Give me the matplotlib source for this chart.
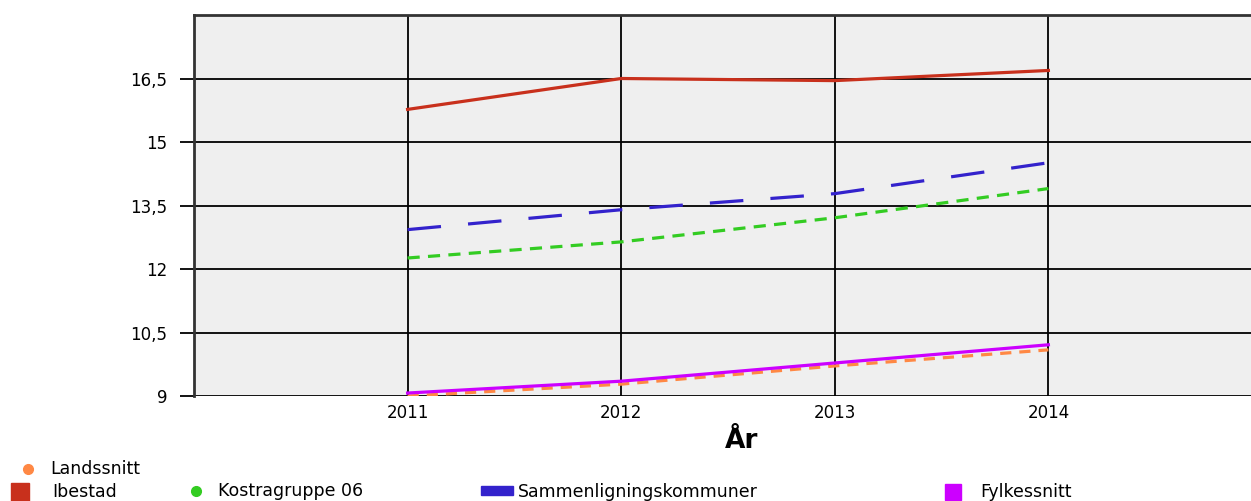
import matplotlib
matplotlib.use("Agg")
import matplotlib.pyplot as plt
from matplotlib.lines import Line2D

# data
years = [2011, 2012, 2013, 2014]
ibestad = [15.77, 16.50, 16.45, 16.69]
kostragruppe = [12.26, 12.64, 13.21, 13.90]
sammenligning = [12.93, 13.40, 13.78, 14.51]
fylkessnitt = [9.07, 9.35, 9.78, 10.21]
landssnitt = [9.00, 9.28, 9.71, 10.09]
yticks = [9, 10.5, 12, 13.5, 15, 16.5]
ytick_labels = ["9", "10,5", "12", "13,5", "15", "16,5"]

c_ibestad = "#c8301c"
c_kostra = "#33cc22"
c_samm = "#3322cc"
c_fylke = "#cc00ff"
c_lands = "#ff8844"

fig = plt.figure(figsize=(12.51, 5.01), dpi=100)
ax = fig.add_axes([194/1251, 1-396/501, (1262-194)/1251, (396-15)/501])
ax.set_facecolor("#efefef")

lw = 2.3
ax.plot(years, landssnitt, color=c_lands, lw=lw, dashes=(3.5, 2.5), zorder=3)
ax.plot(years, fylkessnitt, color=c_fylke, lw=lw, zorder=4)
ax.plot(years, kostragruppe, color=c_kostra, lw=lw, dashes=(3.8, 2.6), zorder=3)
ax.plot(years, sammenligning, color=c_samm, lw=lw, dashes=(10.5, 8.5), zorder=3)
ax.plot(years, ibestad, color=c_ibestad, lw=lw, zorder=3)

ax.set_xlim(2010, 2015)
ax.set_ylim(9, 18)
ax.set_xticks(years)
ax.set_xticklabels([str(y) for y in years])
ax.set_yticks(yticks)
ax.set_yticklabels(ytick_labels)
ax.grid(True, color="black", lw=1.3, zorder=1)
ax.set_axisbelow(True)
ax.tick_params(axis="y", length=10, width=1.3, pad=9, labelsize=12, colors="black")
ax.tick_params(axis="x", length=0, pad=6, labelsize=12)
for s in ["left", "top"]:
    ax.spines[s].set_linewidth(2)
    ax.spines[s].set_color("#333333")
ax.spines["bottom"].set_visible(False)
ax.spines["right"].set_visible(False)

fig.text(742/1251, 1-441/501, "År", ha="center", va="center", fontsize=19, fontweight="bold")

# legend, drawn by hand in figure coordinates
def legend_item(x, y, marker, ms, color, label, tx):
    fig.add_artist(Line2D([x/1251], [1-y/501], marker=marker, ms=ms, color=color,
                          ls="none", transform=fig.transFigure))
    fig.text(tx/1251, 1-y/501, label, ha="left", va="center", fontsize=12.5)

legend_item(28, 469, "o", 7, c_lands, "Landssnitt", 50)
legend_item(20, 492, "s", 13, c_ibestad, "Ibestad", 52)
legend_item(196, 491, "o", 7, c_kostra, "Kostragruppe 06", 218)
fig.add_artist(plt.Rectangle((481/1251, 1-495/501), 32/1251, 9/501, color=c_samm,
                             transform=fig.transFigure))
fig.text(518/1251, 1-492/501, "Sammenligningskommuner", ha="left", va="center", fontsize=12.5)
legend_item(953, 492, "s", 12, c_fylke, "Fylkessnitt", 980)

fig.savefig("out.png", dpi=100)
